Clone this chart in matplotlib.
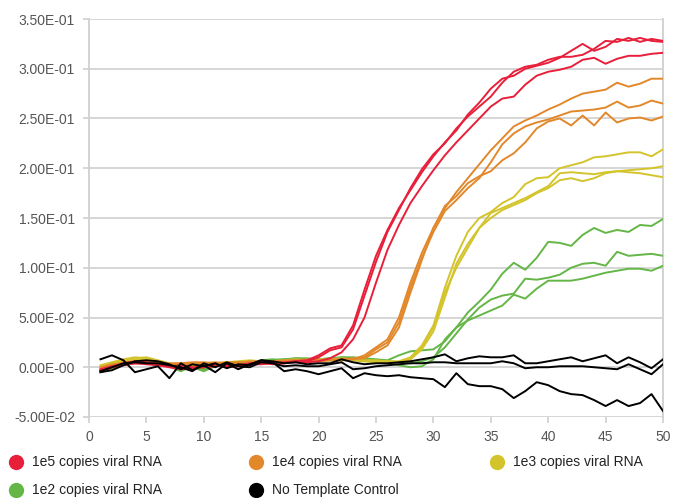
import matplotlib
matplotlib.use("Agg")
import matplotlib.pyplot as plt
from matplotlib.lines import Line2D
import numpy as np

plt.rcParams['font.family'] = ['Liberation Sans', 'DejaVu Sans']

cycles = list(range(1, 51))

# 1e5 copies viral RNA
r1 = [-0.004, 0.000, 0.004, 0.006, 0.005, 0.003, 0.001, 0.000, -0.001, 0.001,
      0.002, 0.001, 0.002, 0.003, 0.004, 0.004, 0.005, 0.006, 0.007, 0.012,
      0.019, 0.022, 0.042, 0.078, 0.112, 0.138, 0.160, 0.178, 0.196, 0.212,
      0.226, 0.238, 0.254, 0.266, 0.280, 0.290, 0.293, 0.300, 0.303, 0.306,
      0.311, 0.318, 0.325, 0.318, 0.322, 0.330, 0.328, 0.331, 0.328, 0.327]
r2 = [-0.002, 0.001, 0.003, 0.004, 0.004, 0.002, 0.001, 0.002, 0.000, 0.000,
      0.001, 0.002, 0.002, 0.004, 0.005, 0.003, 0.004, 0.006, 0.006, 0.010,
      0.017, 0.020, 0.038, 0.072, 0.106, 0.136, 0.158, 0.180, 0.199, 0.214,
      0.225, 0.240, 0.252, 0.262, 0.272, 0.286, 0.297, 0.302, 0.304, 0.309,
      0.312, 0.312, 0.314, 0.320, 0.328, 0.327, 0.331, 0.327, 0.330, 0.328]
r3 = [-0.003, 0.000, 0.002, 0.004, 0.003, 0.002, 0.000, -0.002, -0.001, 0.000,
      0.002, 0.000, 0.001, 0.003, 0.003, 0.004, 0.004, 0.005, 0.005, 0.006,
      0.009, 0.015, 0.028, 0.050, 0.085, 0.118, 0.143, 0.165, 0.182, 0.198,
      0.213, 0.226, 0.238, 0.250, 0.262, 0.270, 0.272, 0.284, 0.293, 0.297,
      0.299, 0.302, 0.309, 0.311, 0.305, 0.310, 0.313, 0.313, 0.315, 0.316]

# 1e4 copies viral RNA
o1 = [-0.002, 0.002, 0.005, 0.006, 0.004, 0.003, 0.002, 0.003, 0.004, 0.003,
      0.004, 0.004, 0.005, 0.005, 0.005, 0.006, 0.005, 0.006, 0.006, 0.006,
      0.007, 0.007, 0.008, 0.012, 0.020, 0.028, 0.050, 0.085, 0.115, 0.140,
      0.160, 0.176, 0.190, 0.204, 0.218, 0.230, 0.242, 0.248, 0.253, 0.259,
      0.264, 0.270, 0.275, 0.277, 0.279, 0.286, 0.282, 0.285, 0.290, 0.290]
o2 = [0.000, 0.003, 0.004, 0.005, 0.005, 0.004, 0.003, 0.004, 0.003, 0.004,
      0.005, 0.004, 0.004, 0.006, 0.006, 0.005, 0.006, 0.007, 0.006, 0.007,
      0.008, 0.008, 0.009, 0.010, 0.018, 0.025, 0.045, 0.080, 0.110, 0.136,
      0.157, 0.168, 0.180, 0.190, 0.206, 0.224, 0.235, 0.242, 0.246, 0.249,
      0.253, 0.257, 0.258, 0.259, 0.261, 0.267, 0.261, 0.263, 0.268, 0.265]
o3 = [-0.003, 0.001, 0.003, 0.004, 0.005, 0.005, 0.004, 0.004, 0.005, 0.005,
      0.004, 0.005, 0.005, 0.005, 0.006, 0.006, 0.007, 0.007, 0.008, 0.007,
      0.007, 0.008, 0.008, 0.009, 0.015, 0.022, 0.040, 0.075, 0.108, 0.140,
      0.162, 0.172, 0.185, 0.192, 0.197, 0.208, 0.215, 0.226, 0.240, 0.247,
      0.250, 0.243, 0.253, 0.243, 0.256, 0.246, 0.250, 0.251, 0.248, 0.252]

# 1e3 copies viral RNA
y1 = [0.002, 0.005, 0.008, 0.010, 0.009, 0.006, 0.003, 0.002, 0.003, 0.004,
      0.004, 0.005, 0.006, 0.007, 0.006, 0.006, 0.007, 0.008, 0.007, 0.008,
      0.008, 0.009, 0.008, 0.007, 0.007, 0.006, 0.006, 0.010, 0.022, 0.042,
      0.080, 0.112, 0.136, 0.150, 0.156, 0.165, 0.171, 0.184, 0.190, 0.191,
      0.200, 0.203, 0.206, 0.211, 0.212, 0.214, 0.216, 0.216, 0.212, 0.219]
y2 = [-0.001, 0.003, 0.006, 0.009, 0.010, 0.007, 0.004, 0.003, 0.002, 0.003,
      0.004, 0.004, 0.005, 0.006, 0.006, 0.005, 0.006, 0.007, 0.007, 0.007,
      0.007, 0.008, 0.007, 0.006, 0.006, 0.006, 0.005, 0.008, 0.018, 0.036,
      0.070, 0.104, 0.124, 0.140, 0.150, 0.158, 0.163, 0.168, 0.175, 0.180,
      0.188, 0.190, 0.187, 0.190, 0.195, 0.197, 0.198, 0.199, 0.200, 0.202]
y3 = [0.000, 0.004, 0.007, 0.008, 0.007, 0.005, 0.003, 0.002, 0.002, 0.003,
      0.003, 0.004, 0.005, 0.006, 0.005, 0.005, 0.006, 0.006, 0.006, 0.007,
      0.007, 0.007, 0.007, 0.006, 0.005, 0.005, 0.005, 0.008, 0.020, 0.040,
      0.075, 0.100, 0.120, 0.140, 0.155, 0.160, 0.165, 0.170, 0.176, 0.182,
      0.195, 0.196, 0.195, 0.194, 0.196, 0.197, 0.196, 0.195, 0.193, 0.191]

# 1e2 copies viral RNA
g1 = [-0.004, 0.000, 0.003, 0.005, 0.006, 0.004, 0.002, -0.003, 0.002, -0.002,
      0.002, 0.003, 0.003, 0.005, 0.006, 0.007, 0.008, 0.008, 0.008, 0.007,
      0.008, 0.010, 0.010, 0.009, 0.008, 0.007, 0.012, 0.016, 0.017, 0.018,
      0.026, 0.040, 0.055, 0.066, 0.078, 0.094, 0.105, 0.098, 0.110, 0.126,
      0.125, 0.122, 0.133, 0.140, 0.135, 0.138, 0.136, 0.143, 0.142, 0.149]
g2 = [-0.003, 0.001, 0.004, 0.006, 0.005, 0.003, 0.001, -0.004, 0.001, -0.003,
      0.002, 0.004, 0.004, 0.005, 0.007, 0.008, 0.007, 0.009, 0.009, 0.008,
      0.009, 0.010, 0.009, 0.008, 0.007, 0.006, 0.005, 0.004, 0.006, 0.010,
      0.020, 0.034, 0.048, 0.060, 0.068, 0.072, 0.074, 0.089, 0.088, 0.090,
      0.093, 0.100, 0.104, 0.105, 0.102, 0.116, 0.112, 0.113, 0.114, 0.112]
g3 = [-0.005, -0.001, 0.003, 0.005, 0.005, 0.004, 0.002, -0.002, 0.000, -0.004,
      0.001, 0.003, 0.004, 0.005, 0.006, 0.007, 0.008, 0.009, 0.008, 0.008,
      0.009, 0.009, 0.008, 0.007, 0.006, 0.005, 0.002, 0.000, 0.001, 0.008,
      0.028, 0.040, 0.047, 0.052, 0.057, 0.062, 0.073, 0.069, 0.079, 0.087,
      0.087, 0.087, 0.089, 0.092, 0.095, 0.097, 0.099, 0.099, 0.097, 0.102]

# No Template Control
k1 = [0.008, 0.012, 0.007, -0.005, -0.002, 0.001, -0.011, 0.004, -0.003, 0.002,
      -0.005, 0.004, -0.002, 0.003, 0.007, 0.005, -0.004, -0.002, -0.004, -0.007,
      -0.004, -0.001, -0.011, -0.006, -0.008, -0.009, -0.008, -0.010, -0.011, -0.012,
      -0.020, -0.006, -0.017, -0.019, -0.019, -0.022, -0.031, -0.024, -0.015, -0.018,
      -0.024, -0.027, -0.028, -0.033, -0.039, -0.033, -0.039, -0.036, -0.027, -0.044]
k2 = [-0.005, -0.003, 0.002, 0.006, 0.007, 0.006, 0.003, -0.002, 0.003, 0.001,
      0.004, -0.001, 0.003, 0.002, 0.007, 0.006, 0.004, 0.005, 0.003, 0.004,
      0.004, 0.008, 0.005, 0.003, 0.004, 0.004, 0.005, 0.006, 0.008, 0.010,
      0.013, 0.006, 0.009, 0.011, 0.010, 0.010, 0.012, 0.004, 0.004, 0.006,
      0.008, 0.010, 0.006, 0.009, 0.012, 0.004, 0.010, 0.005, -0.001, 0.008]
k3 = [-0.004, 0.000, 0.004, 0.005, 0.004, 0.004, 0.002, 0.000, -0.004, 0.004,
      0.000, 0.005, 0.001, 0.000, 0.005, 0.004, 0.001, 0.002, 0.001, 0.001,
      0.003, 0.005, -0.002, -0.001, 0.001, 0.002, 0.003, 0.004, 0.004, 0.005,
      0.005, 0.004, 0.004, 0.004, 0.004, 0.006, 0.004, -0.001, 0.000, 0.000,
      0.001, 0.001, 0.001, 0.000, -0.001, -0.002, 0.003, -0.002, -0.007, 0.003]

group_labels = ["1e5 copies viral RNA", "1e4 copies viral RNA", "1e3 copies viral RNA",
                "1e2 copies viral RNA", "No Template Control"]
group_colors = ["#E81F3A", "#E2882A", "#D4C42C", "#64B646", "#000000"]
groups = [[r1, r2, r3], [o1, o2, o3], [y1, y2, y3], [g1, g2, g3], [k1, k2, k3]]

y_ticks = [-0.05, 0.0, 0.05, 0.10, 0.15, 0.20, 0.25, 0.30, 0.35]
y_tick_labels = ["-5.00E-02", "0.00E-00", "5.00E-02", "1.00E-01", "1.50E-01",
                 "2.00E-01", "2.50E-01", "3.00E-01", "3.50E-01"]
x_ticks = [0, 5, 10, 15, 20, 25, 30, 35, 40, 45, 50]

W, H = 673, 498
fig = plt.figure(figsize=(W / 100, H / 100), dpi=100)
ax = fig.add_axes([89 / W, 1 - 417 / H, (663 - 89) / W, (417 - 19) / H])

# draw order: green/yellow first so red/black visible similar to reference
draw_order = [3, 2, 1, 0, 4]
for gi in draw_order:
    for s in groups[gi]:
        ax.plot(cycles, s, color=group_colors[gi], lw=1.4, solid_joinstyle='round',
                zorder=3)

ax.set_xlim(0, 50)
ax.set_ylim(-0.05, 0.35)
ax.set_yticks(y_ticks)
ax.set_yticklabels(y_tick_labels)
ax.set_xticks(x_ticks)
ax.grid(axis='y', color='#d3d3d3', lw=1.3, zorder=0)
ax.grid(axis='x', visible=False)
for side in ['top', 'bottom']:
    ax.spines[side].set_visible(False)
for side in ['left', 'right']:
    ax.spines[side].set_color('#d0d0d0')
    ax.spines[side].set_linewidth(1.3)
ax.tick_params(axis='both', colors='#d0d0d0', length=4, width=1.2,
               labelcolor='#555555', labelsize=10)
ax.tick_params(axis='y', pad=6)
ax.tick_params(axis='x', pad=5)

# legend (manual, figure coordinates)
col_x = [16, 256, 497]
row_y = [462, 490]
for i, (lab, col) in enumerate(zip(group_labels, group_colors)):
    r, c = divmod(i, 3)
    xm = col_x[c] / W
    ym = 1 - row_y[r] / H
    fig.add_artist(Line2D([xm], [ym], marker='o', markersize=11, color=col,
                          markeredgewidth=0, linestyle='none',
                          transform=fig.transFigure))
    fig.text((col_x[c] + 16) / W, ym, lab, fontsize=10, color='#222222',
             va='center', ha='left')

fig.savefig("out.png", dpi=100)
